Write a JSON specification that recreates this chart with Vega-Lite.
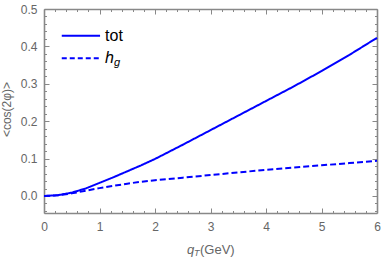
{
  "$schema": "https://vega.github.io/schema/vega-lite/v6.json",
  "width": 333,
  "height": 204,
  "autosize": {"type": "none"},
  "padding": {"left": 44, "top": 9, "right": 5, "bottom": 45},
  "background": "white",
  "config": {
    "view": {"stroke": null},
    "axis": {"grid": false, "ticks": true, "domain": true, "labelFont": "Liberation Sans", "titleFont": "Liberation Sans"},
    "text": {"font": "Liberation Sans"}
  },
  "data": {
    "values": [
      {"x": 0, "y": 0, "s": "tot"},
      {"x": 0.25, "y": 0.002, "s": "tot"},
      {"x": 0.5, "y": 0.009, "s": "tot"},
      {"x": 0.75, "y": 0.02, "s": "tot"},
      {"x": 1, "y": 0.035, "s": "tot"},
      {"x": 1.25, "y": 0.05, "s": "tot"},
      {"x": 1.5, "y": 0.066, "s": "tot"},
      {"x": 1.75, "y": 0.082, "s": "tot"},
      {"x": 2, "y": 0.099, "s": "tot"},
      {"x": 2.5, "y": 0.137, "s": "tot"},
      {"x": 3, "y": 0.176, "s": "tot"},
      {"x": 3.5, "y": 0.215, "s": "tot"},
      {"x": 4, "y": 0.254, "s": "tot"},
      {"x": 4.5, "y": 0.293, "s": "tot"},
      {"x": 5, "y": 0.334, "s": "tot"},
      {"x": 5.5, "y": 0.377, "s": "tot"},
      {"x": 6, "y": 0.423, "s": "tot"},
      {"x": 0, "y": 0, "s": "hg"},
      {"x": 0.25, "y": 0.002, "s": "hg"},
      {"x": 0.5, "y": 0.007, "s": "hg"},
      {"x": 0.75, "y": 0.014, "s": "hg"},
      {"x": 1, "y": 0.021, "s": "hg"},
      {"x": 1.25, "y": 0.027, "s": "hg"},
      {"x": 1.5, "y": 0.033, "s": "hg"},
      {"x": 1.75, "y": 0.038, "s": "hg"},
      {"x": 2, "y": 0.042, "s": "hg"},
      {"x": 2.5, "y": 0.049, "s": "hg"},
      {"x": 3, "y": 0.056, "s": "hg"},
      {"x": 3.5, "y": 0.063, "s": "hg"},
      {"x": 4, "y": 0.07, "s": "hg"},
      {"x": 4.5, "y": 0.076, "s": "hg"},
      {"x": 5, "y": 0.082, "s": "hg"},
      {"x": 5.5, "y": 0.088, "s": "hg"},
      {"x": 6, "y": 0.094, "s": "hg"}
    ]
  },
  "resolve": {"scale": {"x": "independent", "y": "independent"}, "axis": {"x": "independent", "y": "independent"}},
  "layer": [
    {
      "mark": {"type": "line", "color": "#0000ff", "strokeWidth": 2},
      "encoding": {
        "x": {
          "field": "x", "type": "quantitative",
          "scale": {"domain": [0, 6], "nice": false, "zero": false},
          "axis": {
            "orient": "bottom", "title": null,
            "values": [0,0.2,0.4,0.6,0.8,1,1.2,1.4,1.6,1.8,2,2.2,2.4,2.6,2.8,3,3.2,3.4,3.6,3.8,4,4.2,4.4,4.6,4.8,5,5.2,5.4,5.6,5.8,6],
            "labelExpr": "abs(datum.value - round(datum.value)) < 1e-6 ? format(datum.value, 'd') : ''",
            "labelOverlap": false, "labelFlush": false,
            "labelFontSize": 12, "labelColor": "#666666", "labelPadding": 13,
            "tickSize": {"condition": {"test": "abs(datum.value - round(datum.value)) < 1e-6", "value": -5}, "value": -2.5},
            "tickColor": "#888888", "tickWidth": 1,
            "domainColor": "#888888", "domainWidth": 1.6
          }
        },
        "y": {
          "field": "y", "type": "quantitative",
          "scale": {"domain": [-0.0455, 0.5], "nice": false, "zero": false},
          "axis": {
            "orient": "left",
            "values": [-0.04,-0.02,0,0.02,0.04,0.06,0.08,0.1,0.12,0.14,0.16,0.18,0.2,0.22,0.24,0.26,0.28,0.3,0.32,0.34,0.36,0.38,0.4,0.42,0.44,0.46,0.48,0.5],
            "labelExpr": "abs(datum.value*10 - round(datum.value*10)) < 1e-6 ? format(datum.value, '.1f') : ''",
            "labelOverlap": false, "labelFlush": false,
            "labelFontSize": 12, "labelColor": "#666666", "labelPadding": 12,
            "tickSize": {"condition": {"test": "abs(datum.value*10 - round(datum.value*10)) < 1e-6", "value": -5}, "value": -2.5},
            "tickColor": "#888888", "tickWidth": 1,
            "domainColor": "#888888", "domainWidth": 1.6,
            "title": "<cos(2φ)>", "titleFontSize": 12, "titleFontWeight": "normal", "titleColor": "#666666",
            "titleX": -38, "titleY": 100, "titleAngle": -90, "titleAlign": "center", "titleBaseline": "middle"
          }
        },
        "strokeDash": {
          "field": "s", "type": "nominal",
          "scale": {"domain": ["tot", "hg"], "range": [[1, 0], [6, 3]]},
          "legend": null
        }
      }
    },
    {
      "mark": {"type": "point", "opacity": 0},
      "encoding": {
        "x": {
          "field": "x", "type": "quantitative",
          "scale": {"domain": [0, 6], "nice": false, "zero": false},
          "axis": {
            "orient": "top", "title": null, "labels": false,
            "values": [0,0.2,0.4,0.6,0.8,1,1.2,1.4,1.6,1.8,2,2.2,2.4,2.6,2.8,3,3.2,3.4,3.6,3.8,4,4.2,4.4,4.6,4.8,5,5.2,5.4,5.6,5.8,6],
            "tickSize": {"condition": {"test": "abs(datum.value - round(datum.value)) < 1e-6", "value": -5}, "value": -2.5},
            "tickColor": "#888888", "tickWidth": 1,
            "domainColor": "#888888", "domainWidth": 1.6
          }
        },
        "y": {
          "field": "y", "type": "quantitative",
          "scale": {"domain": [-0.0455, 0.5], "nice": false, "zero": false},
          "axis": {
            "orient": "right", "title": null, "labelExpr": "''",
            "values": [-0.04,-0.02,0,0.02,0.04,0.06,0.08,0.1,0.12,0.14,0.16,0.18,0.2,0.22,0.24,0.26,0.28,0.3,0.32,0.34,0.36,0.38,0.4,0.42,0.44,0.46,0.48,0.5],
            "tickSize": {"condition": {"test": "abs(datum.value*10 - round(datum.value*10)) < 1e-6", "value": -5}, "value": -2.5},
            "tickColor": "#888888", "tickWidth": 1,
            "domainColor": "#888888", "domainWidth": 1.6
          }
        }
      }
    },
    {
      "data": {"values": [{}]},
      "mark": {"type": "rule", "color": "#0000ff", "strokeWidth": 2},
      "encoding": {
        "x": {"datum": 0.32, "type": "quantitative", "axis": null, "scale": {"domain": [0, 6], "nice": false, "zero": false}},
        "x2": {"datum": 1.01},
        "y": {"datum": 0.4286, "type": "quantitative", "axis": null, "scale": {"domain": [-0.0455, 0.5], "nice": false, "zero": false}}
      }
    },
    {
      "data": {"values": [{}]},
      "mark": {"type": "rule", "color": "#0000ff", "strokeWidth": 2, "strokeDash": [5, 3]},
      "encoding": {
        "x": {"datum": 0.32, "type": "quantitative", "axis": null, "scale": {"domain": [0, 6], "nice": false, "zero": false}},
        "x2": {"datum": 1.01},
        "y": {"datum": 0.368, "type": "quantitative", "axis": null, "scale": {"domain": [-0.0455, 0.5], "nice": false, "zero": false}}
      }
    },
    {
      "data": {"values": [{}]},
      "mark": {"type": "text", "align": "left", "baseline": "middle", "fontSize": 16, "color": "#000000"},
      "encoding": {
        "x": {"datum": 1.1, "type": "quantitative", "axis": null, "scale": {"domain": [0, 6], "nice": false, "zero": false}},
        "y": {"datum": 0.4286, "type": "quantitative", "axis": null, "scale": {"domain": [-0.0455, 0.5], "nice": false, "zero": false}},
        "text": {"value": "tot"}
      }
    },
    {
      "data": {"values": [{}]},
      "mark": {"type": "text", "align": "left", "baseline": "middle", "fontSize": 16, "fontStyle": "italic", "color": "#000000"},
      "encoding": {
        "x": {"datum": 1.1, "type": "quantitative", "axis": null, "scale": {"domain": [0, 6], "nice": false, "zero": false}},
        "y": {"datum": 0.368, "type": "quantitative", "axis": null, "scale": {"domain": [-0.0455, 0.5], "nice": false, "zero": false}},
        "text": {"value": "h"}
      }
    },
    {
      "data": {"values": [{}]},
      "mark": {"type": "text", "align": "left", "baseline": "middle", "fontSize": 11, "fontStyle": "italic", "color": "#000000", "dx": 9, "dy": 5},
      "encoding": {
        "x": {"datum": 1.1, "type": "quantitative", "axis": null, "scale": {"domain": [0, 6], "nice": false, "zero": false}},
        "y": {"datum": 0.368, "type": "quantitative", "axis": null, "scale": {"domain": [-0.0455, 0.5], "nice": false, "zero": false}},
        "text": {"value": "g"}
      }
    },
    {
      "data": {"values": [{}]},
      "mark": {"type": "text", "align": "left", "baseline": "middle", "fontSize": 13, "fontStyle": "italic", "color": "#666666"},
      "encoding": {
        "x": {"datum": 2.577, "type": "quantitative", "axis": null, "scale": {"domain": [0, 6], "nice": false, "zero": false}},
        "y": {"datum": -0.1454, "type": "quantitative", "axis": null, "scale": {"domain": [-0.0455, 0.5], "nice": false, "zero": false}},
        "text": {"value": "q"}
      }
    },
    {
      "data": {"values": [{}]},
      "mark": {"type": "text", "align": "left", "baseline": "middle", "fontSize": 9, "fontStyle": "italic", "color": "#666666", "dx": 7, "dy": 3},
      "encoding": {
        "x": {"datum": 2.577, "type": "quantitative", "axis": null, "scale": {"domain": [0, 6], "nice": false, "zero": false}},
        "y": {"datum": -0.1454, "type": "quantitative", "axis": null, "scale": {"domain": [-0.0455, 0.5], "nice": false, "zero": false}},
        "text": {"value": "T"}
      }
    },
    {
      "data": {"values": [{}]},
      "mark": {"type": "text", "align": "left", "baseline": "middle", "fontSize": 13, "color": "#666666", "dx": 13},
      "encoding": {
        "x": {"datum": 2.577, "type": "quantitative", "axis": null, "scale": {"domain": [0, 6], "nice": false, "zero": false}},
        "y": {"datum": -0.1454, "type": "quantitative", "axis": null, "scale": {"domain": [-0.0455, 0.5], "nice": false, "zero": false}},
        "text": {"value": "(GeV)"}
      }
    }
  ]
}
